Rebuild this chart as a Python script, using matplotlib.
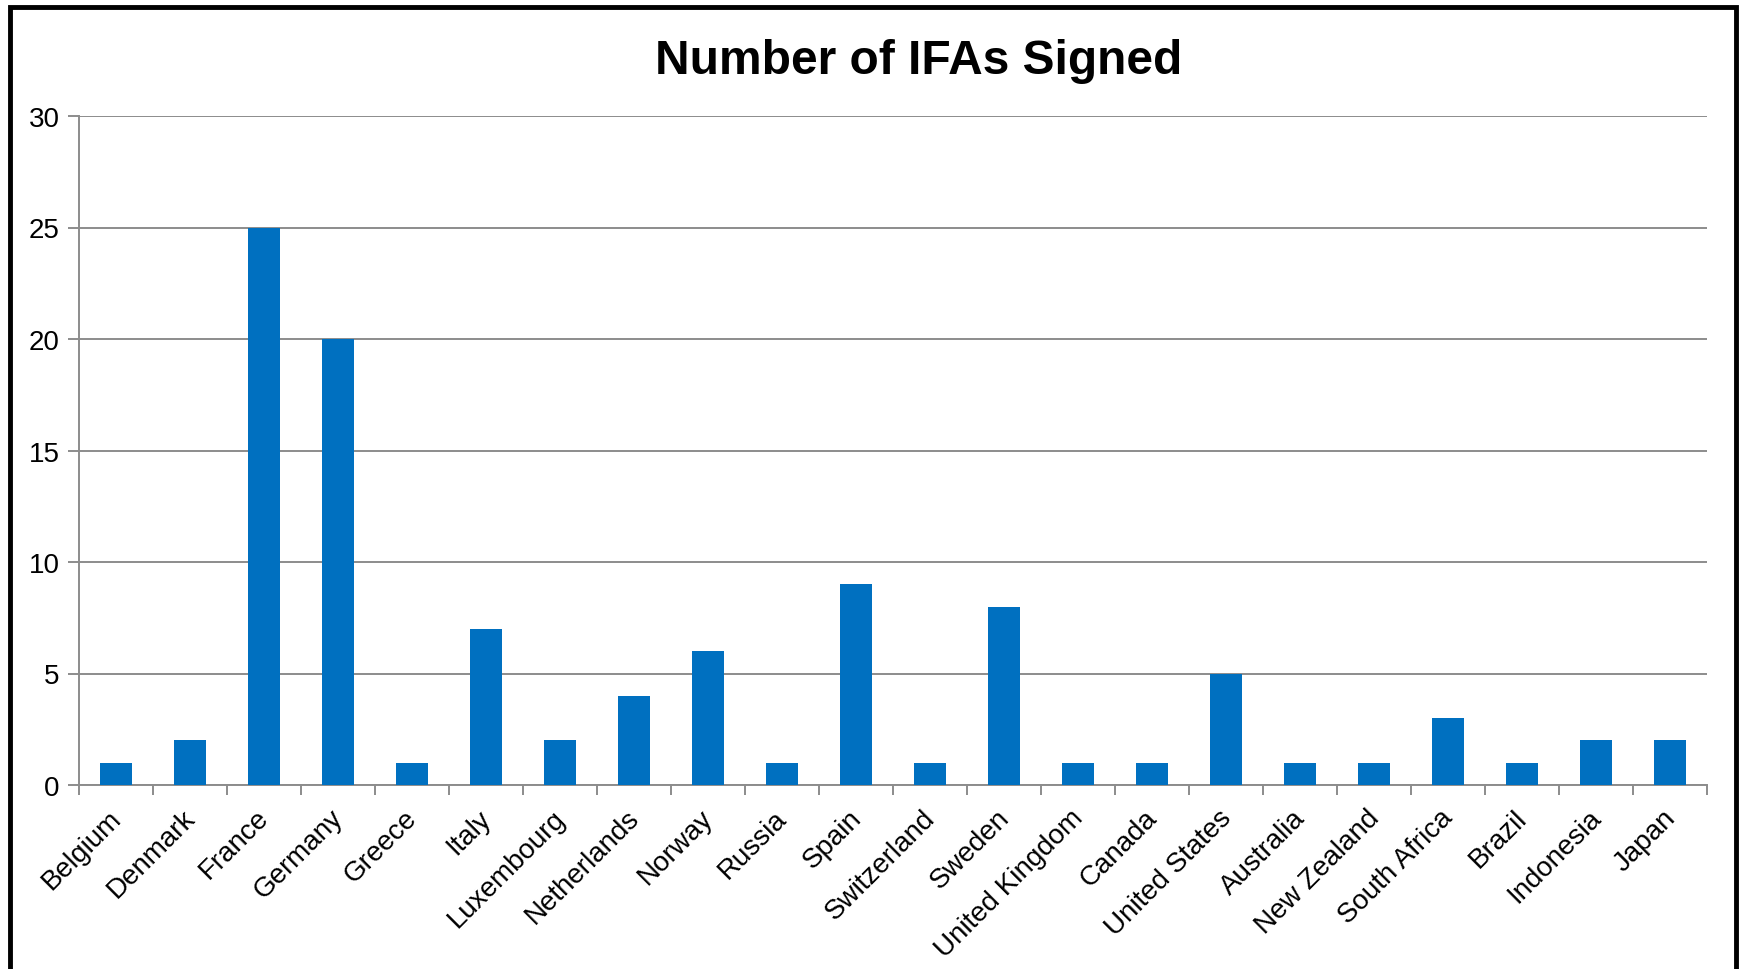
import matplotlib
matplotlib.use("Agg")
import matplotlib.pyplot as plt
from matplotlib.patches import Rectangle
from matplotlib.transforms import ScaledTranslation
import numpy as np

countries = ["Belgium", "Denmark", "France", "Germany", "Greece", "Italy", "Luxembourg",
             "Netherlands", "Norway", "Russia", "Spain", "Switzerland", "Sweden",
             "United Kingdom", "Canada", "United States", "Australia", "New Zealand",
             "South Africa", "Brazil", "Indonesia", "Japan"]
ifas = [1, 2, 25, 20, 1, 7, 2, 4, 6, 1, 9, 1, 8, 1, 1, 5, 1, 1, 3, 1, 2, 2]
y_ticks = [0, 5, 10, 15, 20, 25, 30]

plt.rcParams['font.family'] = ['Liberation Sans', 'DejaVu Sans']

W, H = 1742, 970
fig = plt.figure(figsize=(W / 100, H / 100), dpi=100)
ax = fig.add_axes([79 / W, 1 - 786 / H, (1707 - 79) / W, (786 - 117) / H])

x = np.arange(len(countries))
ax.bar(x, ifas, width=0.42, color="#0070C0", zorder=3)

ax.set_xlim(-0.5, len(countries) - 0.5)
ax.set_ylim(0, 30)
ax.set_yticks(y_ticks)
ax.set_yticklabels([str(v) for v in y_ticks], fontsize=20)
ax.grid(axis="y", color="#8c8c8c", linewidth=1.4, zorder=0)

ax.set_xticks(np.arange(len(countries) + 1) - 0.5)
ax.set_xticklabels([])
ax.set_xticks(x, minor=True)
ax.set_xticklabels(countries, minor=True, rotation=45, ha="right", va="top",
                   rotation_mode="anchor", fontsize=20)
ax.tick_params(axis="x", which="minor", length=0, pad=14)
ax.tick_params(axis="x", which="major", length=7, width=1.4, color="#8c8c8c")
ax.tick_params(axis="y", length=8, width=1.4, color="#8c8c8c", pad=6)

shift = ScaledTranslation(-8 / 100, 0, fig.dpi_scale_trans)
for lbl in ax.get_xticklabels(minor=True):
    lbl.set_transform(lbl.get_transform() + shift)

for s in ["top", "right"]:
    ax.spines[s].set_visible(False)
for s in ["left", "bottom"]:
    ax.spines[s].set_color("#8c8c8c")
    ax.spines[s].set_linewidth(1.4)

fig.text(919 / W, 1 - 61 / H, "Number of IFAs Signed", ha="center", va="center",
         fontsize=34.5, fontweight="bold")

border = Rectangle((10 / W, -0.05), (1736 - 10) / W, 1.05 - 8 / H,
                   transform=fig.transFigure, fill=False, edgecolor="black",
                   linewidth=3.5, zorder=10)
fig.patches.append(border)

fig.savefig("out.png", dpi=100)
